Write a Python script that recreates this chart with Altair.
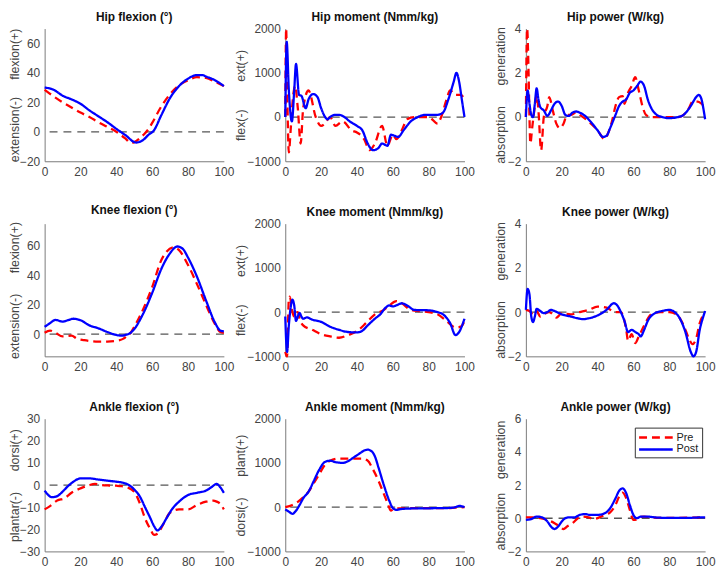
import altair as alt
import pandas as pd

FONT = "Liberation Sans"
SERIES = ["Pre", "Post"]
COLORS = ["#ff0000", "#0000ff"]
DASHES = [[8, 5], [1, 0]]
X_TICKS = [0, 20, 40, 60, 80, 100]

# ---------------- Hip flexion ----------------
HIP_FLEX_PRE_X = [0, 5, 10, 15, 20, 25, 30, 35, 40, 45, 48, 50, 53, 56, 58, 60, 65, 70, 75, 80, 85, 90, 95, 100]
HIP_FLEX_PRE_Y = [28.5, 24, 20, 16.5, 13, 10, 6.5, 3.3, 0, -4.5, -7.5, -7, -4.5, -1, 2, 6, 17, 25.5, 31.5, 35, 37, 36.5, 34, 31]
HIP_FLEX_POST_X = [0, 5, 10, 15, 20, 25, 30, 35, 40, 45, 51, 55, 58, 61, 65, 70, 75, 80, 85, 88, 90, 95, 100]
HIP_FLEX_POST_Y = [30, 28.5, 24.5, 22, 19, 14.5, 10.5, 6.5, 2, -2.2, -7.3, -5.5, -2, 1, 11, 23, 31, 36, 38.5, 38.5, 37.5, 35, 31]

# ---------------- Hip moment ----------------
HIP_MOM_PRE_X = [0, 0.5, 1, 2, 3, 4, 5.5, 7, 8.6, 10, 13, 17, 20, 22, 25, 28, 32, 37, 40, 44, 47, 50, 54, 57, 60, 62, 65, 68, 72, 80, 85, 87, 90, 92, 95, 98, 100]
HIP_MOM_PRE_Y = [0, 2000, 800, -800, -300, 300, 700, 200, -600, 200, 600, 0, -200, -150, 0, -200, -100, -300, -350, -500, -750, -600, -200, -650, -400, -500, -300, -50, 0, 0, -150, 0, 400, 600, 500, 500, 400]
HIP_MOM_POST_X = [0, 0.8, 2, 3.7, 5, 6, 7.7, 9, 11.4, 13, 15.6, 18, 20, 23.7, 25, 28, 30, 33, 36, 40, 43, 46, 49, 52, 54, 57, 59, 63, 66, 70, 74, 78, 85, 88, 91, 94, 95.5, 97, 98.5, 100]
HIP_MOM_POST_Y = [0, 1700, 600, -100, 600, 1200, 500, 480, 200, 400, 520, 450, 200, -50, 0, 50, 50, 0, -100, -200, -300, -600, -750, -700, -600, -650, -400, -450, -300, -100, 0, 50, 50, 100, 400, 800, 1000, 800, 400, 0]

# ---------------- Hip power ----------------
HIP_POW_PRE_X = [0, 0.7, 1.5, 2, 2.5, 3.5, 5, 6, 7, 8.5, 10, 12, 13, 15, 17, 19, 21, 23, 25, 28, 30, 35, 40, 44, 46, 48, 50, 52, 54, 55, 57, 59, 61, 63, 65, 67, 70, 80, 85, 88, 91, 93, 96, 98, 100]
HIP_POW_PRE_Y = [0, 4, 2, 0, -1.2, -0.5, 0.5, 1.0, 0.3, -1.5, 0, 0.5, 0.9, 0.3, -0.3, -0.5, -0.3, 0.1, 0.1, 0.2, 0.1, -0.2, -0.6, -1.0, -0.7, -0.2, 0.5, 0.9, 0.95, 0.6, 1.1, 1.4, 1.8, 1.2, 0.5, 0.1, 0, 0, 0, 0.1, 0.4, 0.7, 0.7, 0.6, 0.4]
HIP_POW_POST_X = [0, 1, 2, 3, 4, 5, 6, 7, 8, 10, 12, 14, 16, 18, 20, 22, 24, 26, 28, 30, 33, 36, 40, 43, 45, 47, 50, 52, 54, 56, 58, 60, 62, 64, 66, 68, 70, 73, 76, 80, 85, 88, 92, 95, 96.5, 98, 99, 100]
HIP_POW_POST_Y = [0, 1.2, 0.6, 0.1, 0, 0.6, 1.3, 0.8, 0.45, 0.3, 0.05, 0.3, 0.6, 0.7, 0.5, 0.1, 0.05, 0.2, 0.25, 0.2, 0.05, -0.2, -0.6, -0.9, -0.85, -0.5, 0.1, 0.5, 0.7, 0.8, 1.1, 1.2, 1.4, 1.6, 1.4, 0.8, 0.4, 0.1, 0, -0.05, 0, 0.1, 0.5, 0.9, 1.0, 0.8, 0.4, -0.1]

# ---------------- Knee flexion ----------------
KNEE_FLEX_PRE_X = [0, 3, 6, 10, 15, 18, 22, 30, 35, 40, 44, 46, 48, 50, 55, 60, 65, 68, 72, 75, 80, 85, 90, 95, 98, 100]
KNEE_FLEX_PRE_Y = [1, 2.5, 1, -1.5, -1, -3, -4, -5, -5, -4.5, -3, -1, 1, 5, 17, 32, 50, 56, 59, 57, 47, 34, 20, 7, 1.5, 1]
KNEE_FLEX_POST_X = [0, 3, 6, 10, 13, 16, 20, 25, 30, 35, 40, 43, 45, 48, 50, 55, 60, 65, 70, 74, 77, 80, 85, 90, 95, 98, 100]
KNEE_FLEX_POST_Y = [5, 7.5, 9.7, 8.6, 9.5, 10.5, 9.5, 6, 4, 1.5, -0.5, -1, -0.5, 1, 3.5, 14, 28, 44, 55, 59.5, 58, 52, 39, 23, 8, 2.5, 2]

# ---------------- Knee moment ----------------
KNEE_MOM_PRE_X = [0, 1, 2, 2.5, 4, 5, 7, 8, 10, 15, 20, 25, 30, 35, 40, 45, 50, 55, 58, 62, 65, 70, 75, 80, 85, 90, 95, 98, 100]
KNEE_MOM_PRE_Y = [-900, -1000, 300, 350, 0, -100, 0, -150, -300, -400, -500, -550, -580, -520, -430, -250, -50, 50, 150, 250, 200, 50, 20, 0, -50, -200, -350, -330, -200]
KNEE_MOM_POST_X = [0, 1, 2, 3, 4, 5, 6, 7, 8, 9, 10, 12, 15, 20, 25, 30, 35, 40, 43, 46, 50, 53, 56, 58, 60, 63, 65, 68, 72, 80, 85, 88, 92, 95, 97, 100]
KNEE_MOM_POST_Y = [-100, -900, -300, 100, 280, 150, -200, -100, -20, -100, -150, -120, -170, -220, -330, -400, -450, -460, -420, -300, -150, -50, 100, 150, 130, 170, 200, 150, 50, 40, 0, -50, -250, -520, -450, -150]

# ---------------- Knee power ----------------
KNEE_POW_PRE_X = [0, 2, 4, 6, 8, 10, 13, 15, 17, 20, 25, 30, 35, 40, 45, 50, 53, 56, 57, 59, 61, 63, 66, 70, 75, 80, 84, 88, 91, 93, 95, 97, 100]
KNEE_POW_PRE_Y = [0.1, 0.05, -0.1, 0.05, -0.2, -0.1, 0, -0.1, -0.25, -0.05, -0.1, 0, 0.1, 0.25, 0.2, 0, 0, -0.8, -1.3, -1.0, -1.4, -1.1, -0.6, -0.1, 0, 0, -0.1, -0.6, -1.2, -1.45, -1.2, -0.5, -0.05]
KNEE_POW_POST_X = [0, 1, 2, 3, 4, 5, 6, 8, 10, 12, 14, 16, 20, 25, 30, 32, 35, 40, 45, 49, 51, 53, 55, 57, 59, 61, 63, 64, 66, 68, 72, 76, 80, 83, 86, 89, 92, 93.5, 95, 97, 99, 100]
KNEE_POW_POST_Y = [0.1, 1.05, 0.8, -0.2, -0.45, -0.2, 0.15, 0.05, -0.05, 0, 0.1, 0.05, -0.1, -0.2, -0.3, -0.32, -0.28, -0.15, 0.1, 0.4, 0.3, 0, -0.4, -0.9, -0.8, -0.9, -1.0, -1.1, -0.8, -0.4, -0.05, 0.05, 0.1, 0, -0.3, -0.9, -1.8, -2.0, -1.8, -0.8, -0.2, 0.05]

# ---------------- Ankle flexion ----------------
ANK_FLEX_PRE_X = [0, 3, 7, 11, 15, 20, 25, 28, 32, 36, 40, 43, 46, 50, 53, 56, 59, 61, 63, 66, 70, 75, 80, 85, 90, 94, 96, 98, 100]
ANK_FLEX_PRE_Y = [-11, -9.5, -7, -6, -3.5, -1.5, 0, 0.5, 0, -0.2, -0.3, -0.5, -1, -3, -8, -15, -20, -22.5, -22, -18, -12.5, -11, -11, -9, -7.5, -7, -7.5, -8.5, -11]
ANK_FLEX_POST_X = [0, 2, 4, 7, 10, 13, 16, 20, 25, 30, 35, 40, 44, 47, 50, 53, 56, 59, 61, 63, 65, 68, 71, 75, 80, 85, 90, 93, 96, 98, 100]
ANK_FLEX_POST_Y = [-2.5, -4.5, -5.5, -5, -3, -0.5, 1.5, 3, 3, 2.5, 2, 1.5, 1, 0, -2, -5, -10, -15, -18.5, -20.5, -19, -15, -11, -7.5, -4.5, -3.5, -2.5, -1, 0.5, -1, -3.5]

# ---------------- Ankle moment ----------------
ANK_MOM_PRE_X = [0, 4, 7, 10, 13, 16, 19, 22, 25, 30, 35, 40, 43, 46, 49, 52, 55, 57, 59, 60, 62, 70, 80, 90, 95, 100]
ANK_MOM_PRE_Y = [0, 50, 120, 220, 350, 550, 750, 950, 1050, 1100, 1100, 1100, 1100, 1050, 850, 600, 300, 100, -80, -50, -30, -20, -20, -20, -10, 0]
ANK_MOM_POST_X = [0, 2, 4, 6, 8, 10, 13, 16, 19, 22, 25, 28, 32, 35, 38, 41, 44, 46, 48, 50, 52, 55, 58, 60, 62, 65, 70, 80, 90, 95, 97, 100]
ANK_MOM_POST_Y = [-50, -100, -150, -80, 50, 200, 350, 600, 850, 1020, 1050, 1020, 1000, 1040, 1120, 1200, 1280, 1300, 1270, 1150, 900, 500, 150, -20, -60, -40, -30, -25, -20, 0, 30, 0]

# ---------------- Ankle power ----------------
ANK_POW_PRE_X = [0, 4, 8, 12, 16, 19, 21, 23, 26, 29, 32, 35, 38, 41, 44, 47, 50, 52, 54, 56, 58, 60, 61, 63, 66, 70, 80, 100]
ANK_POW_PRE_Y = [0.05, 0.05, 0, -0.1, -0.3, -0.5, -0.65, -0.5, -0.3, 0, 0.1, 0.05, -0.05, 0.05, 0.2, 0.35, 0.8, 1.3, 1.55, 1.2, 0.5, -0.1, -0.1, 0.05, 0.1, 0.05, 0.02, 0.05]
ANK_POW_POST_X = [0, 3, 6, 9, 12, 14, 16, 18, 20, 22, 24, 27, 30, 33, 36, 40, 44, 47, 50, 52, 54, 56, 58, 60, 62, 64, 68, 72, 80, 90, 98, 100]
ANK_POW_POST_Y = [-0.1, -0.05, 0.1, 0.05, -0.2, -0.5, -0.65, -0.5, -0.2, 0, 0.05, 0.05, 0.2, 0.25, 0.2, 0.2, 0.3, 0.6, 1.2, 1.65, 1.8, 1.5, 0.8, 0.2, 0, 0.1, 0.1, 0.05, 0.02, 0.02, 0.05, 0.05]

NB = "\u00a0"

TITLES = [
    ["Hip flexion (°)", "Hip moment (Nmm/kg)", "Hip power (W/kg)"],
    ["Knee flexion (°)", "Knee moment (Nmm/kg)", "Knee power (W/kg)"],
    ["Ankle flexion (°)", "Ankle moment (Nmm/kg)", "Ankle power (W/kg)"],
]
Y_TITLES = [
    ["extension(-)" + NB * 5 + "flexion(+)", "flex(-)" + NB * 8 + "ext(+)", "absorption" + NB * 6 + "generation"],
    ["extension(-)" + NB * 6 + "flexion(+)", "flex(-)" + NB * 8 + "ext(+)", "absorption" + NB * 6 + "generation"],
    ["plantar(-)" + NB * 6 + "dorsi(+)", "dorsi(-)" + NB * 6 + "plant(+)", "absorption" + NB * 4 + "generation"],
]
Y_DOMAINS = [
    [[-20, 70], [-1000, 2000], [-2, 4]],
    [[-15, 75], [-1000, 2000], [-2, 4]],
    [[-30, 30], [-1000, 2000], [-2, 6]],
]
Y_TICKS = [
    [[-20, 0, 20, 40, 60], [-1000, 0, 1000, 2000], [-2, 0, 2, 4]],
    [[0, 20, 40, 60], [-1000, 0, 1000, 2000], [-2, 0, 2, 4]],
    [[-30, -20, -10, 0, 10, 20, 30], [-1000, 0, 1000, 2000], [-2, 0, 2, 4, 6]],
]
DATA = [
    [(HIP_FLEX_PRE_X, HIP_FLEX_PRE_Y, HIP_FLEX_POST_X, HIP_FLEX_POST_Y),
     (HIP_MOM_PRE_X, HIP_MOM_PRE_Y, HIP_MOM_POST_X, HIP_MOM_POST_Y),
     (HIP_POW_PRE_X, HIP_POW_PRE_Y, HIP_POW_POST_X, HIP_POW_POST_Y)],
    [(KNEE_FLEX_PRE_X, KNEE_FLEX_PRE_Y, KNEE_FLEX_POST_X, KNEE_FLEX_POST_Y),
     (KNEE_MOM_PRE_X, KNEE_MOM_PRE_Y, KNEE_MOM_POST_X, KNEE_MOM_POST_Y),
     (KNEE_POW_PRE_X, KNEE_POW_PRE_Y, KNEE_POW_POST_X, KNEE_POW_POST_Y)],
    [(ANK_FLEX_PRE_X, ANK_FLEX_PRE_Y, ANK_FLEX_POST_X, ANK_FLEX_POST_Y),
     (ANK_MOM_PRE_X, ANK_MOM_PRE_Y, ANK_MOM_POST_X, ANK_MOM_POST_Y),
     (ANK_POW_PRE_X, ANK_POW_PRE_Y, ANK_POW_POST_X, ANK_POW_POST_Y)],
]

# axis label extents per column (title offset = extent + padding)
EXTENTS = [20, 36, 16]
TPADS = [3, 2, 3]

W, H = 181, 134


def make_panel(r, c):
    pre_x, pre_y, post_x, post_y = DATA[r][c]
    ysc = alt.Scale(domain=Y_DOMAINS[r][c], nice=False, zero=False)
    xsc = alt.Scale(domain=[0, 100], nice=False)
    yax = alt.Axis(values=Y_TICKS[r][c], title=Y_TITLES[r][c], grid=False, ticks=False,
                   format="d",
                   domainColor="#7a7a7a", labelColor="#444", titleColor="#444",
                   labelFont=FONT, titleFont=FONT, labelFontSize=12, titleFontSize=12.5,
                   titleFontWeight="normal", labelPadding=5, minExtent=EXTENTS[c],
                   maxExtent=EXTENTS[c], titlePadding=TPADS[c], titleLimit=400,
                   labelFlush=False, labelOverlap=False)
    xax = alt.Axis(values=X_TICKS, title=None, grid=False, ticks=False, format="d",
                   domainColor="#7a7a7a", labelColor="#444", labelFont=FONT,
                   labelFontSize=12, labelPadding=5, labelFlush=False, labelOverlap=False)
    show_legend = (r == 2 and c == 2)
    if show_legend:
        leg = alt.Legend(orient="none", legendX=110, legendY=9, title=None,
                         strokeColor="#333", fillColor="white", padding=3,
                         symbolType="M-1,0H5", symbolSize=128, symbolStrokeWidth=2.5,
                         labelFont=FONT, labelFontSize=11, labelColor="#222",
                         labelOffset=25, rowPadding=0)
    else:
        leg = None
    cscale = alt.Scale(domain=SERIES, range=COLORS)
    dscale = alt.Scale(domain=SERIES, range=DASHES)

    # the top tick label of some panels sits at the top edge and lifts the title; compensate
    top_label = Y_TICKS[r][c][-1] == Y_DOMAINS[r][c][1]
    t_offset = -1 if top_label else 4

    zero = alt.Chart(pd.DataFrame({"v": [0]})).mark_rule(
        color="#555555", strokeDash=[8, 6], strokeWidth=1.3
    ).encode(y=alt.Y("v:Q", scale=ysc, axis=yax))

    def line(xs, ys, name):
        df = pd.DataFrame({"x": xs, "y": ys, "series": name})
        return alt.Chart(df).mark_line(interpolate="monotone", strokeWidth=2.3).encode(
            x=alt.X("x:Q", scale=xsc, axis=xax),
            y=alt.Y("y:Q", scale=ysc, axis=yax),
            color=alt.Color("series:N", scale=cscale, legend=leg),
            strokeDash=alt.StrokeDash("series:N", scale=dscale, legend=leg),
        )

    return alt.layer(zero, line(pre_x, pre_y, "Pre"), line(post_x, post_y, "Post")).properties(
        width=W, height=H,
        title=alt.TitleParams(TITLES[r][c], font=FONT, fontSize=12, fontWeight="bold",
                              color="#111", offset=t_offset, anchor="middle", frame="group"),
    )


panels = [make_panel(r, c) for r in range(3) for c in range(3)]

chart = alt.concat(*panels, columns=3, spacing={"row": 63, "column": 62}, bounds="flush").resolve_scale(
    color="independent", strokeDash="independent"
).properties(padding={"left": 0, "top": 0, "right": 0, "bottom": 0}).configure_view(stroke=None)

chart.save("out.html", embed_options={"renderer": "svg", "actions": False})
